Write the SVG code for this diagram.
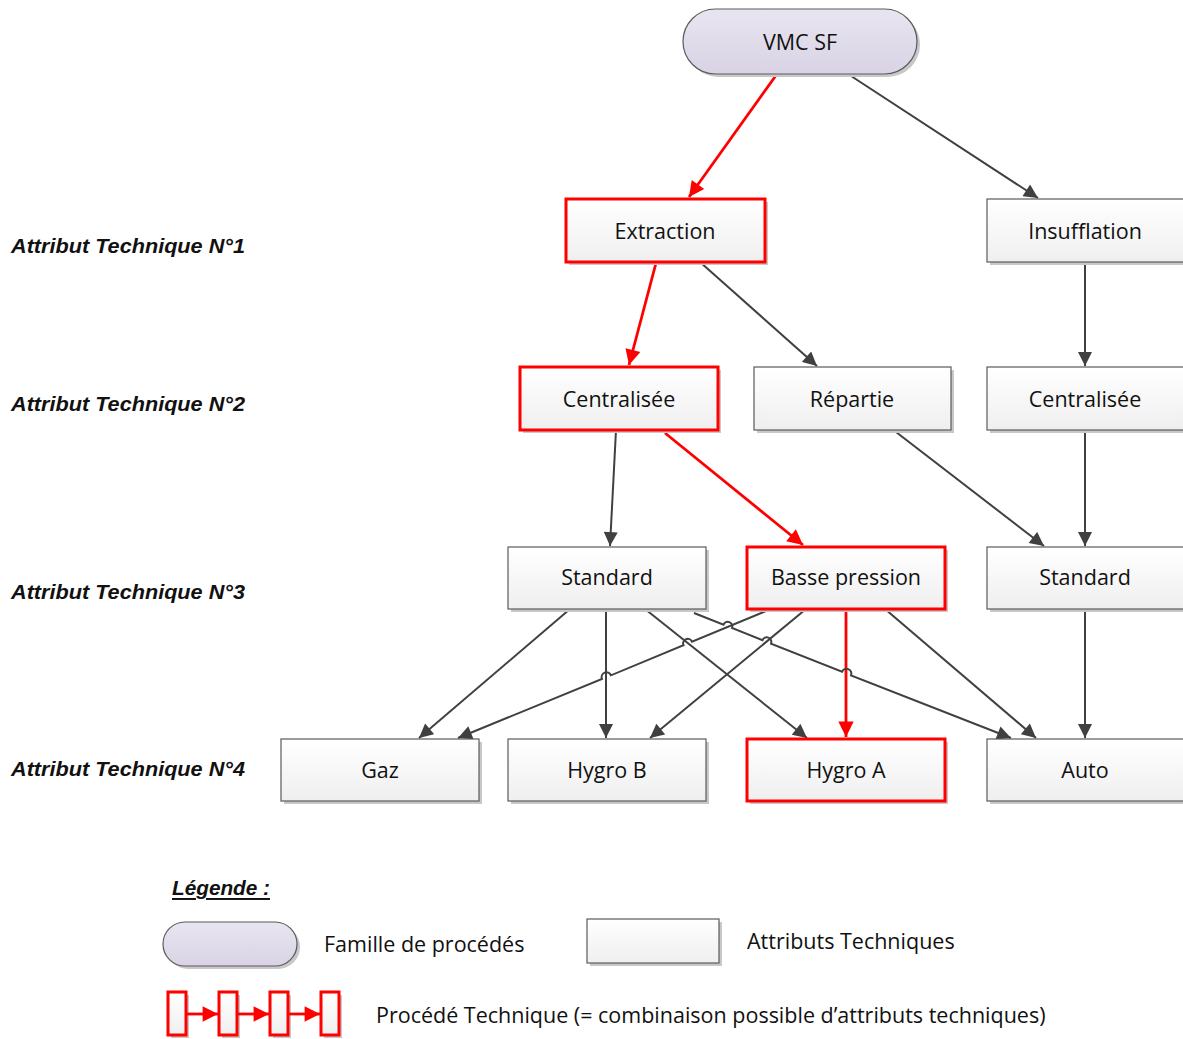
<svg xmlns="http://www.w3.org/2000/svg" width="1183" height="1039" viewBox="0 0 1183 1039">
<style>
.box{fill:url(#gBox);stroke:#5a5a5a;stroke-width:1.2}
.rbox{fill:url(#gBox);stroke:#ff0000;stroke-width:3}
.sh{fill:#c8c8c8}
.t{font-family:"Open Sans","Liberation Sans",sans-serif;font-size:21.5px;fill:#111;text-anchor:middle;dominant-baseline:central}
.lt{font-family:"Open Sans","Liberation Sans",sans-serif;font-size:21.5px;fill:#111;dominant-baseline:central}
.at{font-family:"Liberation Sans","Open Sans",sans-serif;font-size:19.5px;font-weight:bold;font-style:italic;fill:#111;dominant-baseline:central}
.c{fill:none;stroke:#404040;stroke-width:2}
.r{fill:none;stroke:#ff0000;stroke-width:2.8}
</style>
<defs>
<linearGradient id="gBox" x1="0" y1="0" x2="0" y2="1"><stop offset="0" stop-color="#ffffff"/><stop offset="1" stop-color="#efefef"/></linearGradient>
<linearGradient id="gFam" x1="0" y1="0" x2="0" y2="1"><stop offset="0" stop-color="#e9e5f0"/><stop offset="1" stop-color="#d9d3e5"/></linearGradient>
<marker id="ab" viewBox="0 0 10 10" refX="10" refY="5" markerWidth="7.5" markerHeight="7" orient="auto" markerUnits="strokeWidth"><path d="M0,0 L10,5 L0,10 Z" fill="#404040"/></marker>
<marker id="ar" viewBox="0 0 10 10" refX="10" refY="5" markerWidth="6" markerHeight="5.5" orient="auto" markerUnits="strokeWidth"><path d="M0,0 L10,5 L0,10 Z" fill="#ff0000"/></marker>
</defs>

<g id="labels">
<text class="at" x="11" y="246" textLength="234" lengthAdjust="spacingAndGlyphs">Attribut Technique N°1</text>
<text class="at" x="11" y="404" textLength="234" lengthAdjust="spacingAndGlyphs">Attribut Technique N°2</text>
<text class="at" x="11" y="592" textLength="234" lengthAdjust="spacingAndGlyphs">Attribut Technique N°3</text>
<text class="at" x="11" y="769" textLength="234" lengthAdjust="spacingAndGlyphs">Attribut Technique N°4</text>
</g>

<g id="connectors">
<line class="r" x1="777" y1="74" x2="689" y2="197" marker-end="url(#ar)"/>
<line class="c" x1="848" y1="74" x2="1038" y2="198" marker-end="url(#ab)"/>
<line class="r" x1="656" y1="263" x2="629" y2="365" marker-end="url(#ar)"/>
<line class="c" x1="700" y1="262" x2="817" y2="366" marker-end="url(#ab)"/>
<line class="c" x1="1085" y1="262" x2="1085" y2="366" marker-end="url(#ab)"/>
<line class="c" x1="616" y1="430" x2="610" y2="546" marker-end="url(#ab)"/>
<line class="r" x1="665" y1="433" x2="803" y2="545" marker-end="url(#ar)"/>
<line class="c" x1="896" y1="432" x2="1044" y2="546" marker-end="url(#ab)"/>
<line class="c" x1="1085" y1="430" x2="1085" y2="546" marker-end="url(#ab)"/>
<line class="c" x1="570" y1="609" x2="419" y2="738" marker-end="url(#ab)"/>
<line class="c" x1="606" y1="609" x2="606" y2="738" marker-end="url(#ab)"/>
<line class="c" x1="645" y1="609" x2="807" y2="738" marker-end="url(#ab)"/>
<line class="r" x1="846" y1="610" x2="846" y2="737" marker-end="url(#ar)"/>
<line class="c" x1="806" y1="609" x2="650" y2="738" marker-end="url(#ab)"/>
<line class="c" x1="885" y1="609" x2="1036" y2="738" marker-end="url(#ab)"/>
<line class="c" x1="1085" y1="609" x2="1085" y2="738" marker-end="url(#ab)"/>
<path class="c" d="M771,609 L692,641.7 A4.5,4.5 0 0 0 683.5,645.2 L611,675.3 A4.5,4.5 0 0 0 602,679 L458,738" marker-end="url(#ab)"/>
<path class="c" d="M694,613 L723.5,624.7 A4.5,4.5 0 0 1 732,628 L762.5,640.2 A4.5,4.5 0 0 1 771,643.6 L842,671.8 A4.5,4.5 0 0 1 851,675.4 L1011,738" marker-end="url(#ab)"/>
</g>

<g id="vmc">
<rect x="686" y="12" width="234" height="65" rx="32.5" fill="#c8c8c8"/>
<rect x="683" y="9" width="234" height="65" rx="32.5" fill="url(#gFam)" stroke="#5a5a5a" stroke-width="1.2"/>
<text class="t" x="800" y="41">VMC SF</text>
</g>
<g id="extraction">
<rect class="sh" x="569" y="202" width="199" height="63"/>
<rect class="rbox" x="566" y="199" width="199" height="63"/>
<text class="t" x="665" y="230">Extraction</text>
</g>
<g id="insufflation">
<rect class="sh" x="990" y="202" width="200" height="63"/>
<rect class="box" x="987" y="199" width="200" height="63"/>
<text class="t" x="1085" y="230">Insufflation</text>
</g>
<g id="centralisee1">
<rect class="sh" x="523" y="370" width="198" height="63"/>
<rect class="rbox" x="520" y="367" width="198" height="63"/>
<text class="t" x="619" y="398">Centralisée</text>
</g>
<g id="repartie">
<rect class="sh" x="757" y="370" width="197" height="63"/>
<rect class="box" x="754" y="367" width="197" height="63"/>
<text class="t" x="852" y="398">Répartie</text>
</g>
<g id="centralisee2">
<rect class="sh" x="990" y="370" width="200" height="63"/>
<rect class="box" x="987" y="367" width="200" height="63"/>
<text class="t" x="1085" y="398">Centralisée</text>
</g>
<g id="standard1">
<rect class="sh" x="511" y="550" width="198" height="62"/>
<rect class="box" x="508" y="547" width="198" height="62"/>
<text class="t" x="607" y="576">Standard</text>
</g>
<g id="bassepression">
<rect class="sh" x="750" y="550" width="198" height="62"/>
<rect class="rbox" x="747" y="547" width="198" height="62"/>
<text class="t" x="846" y="576">Basse pression</text>
</g>
<g id="standard2">
<rect class="sh" x="990" y="550" width="200" height="62"/>
<rect class="box" x="987" y="547" width="200" height="62"/>
<text class="t" x="1085" y="576">Standard</text>
</g>
<g id="gaz">
<rect class="sh" x="284" y="742" width="198" height="62"/>
<rect class="box" x="281" y="739" width="198" height="62"/>
<text class="t" x="380" y="769">Gaz</text>
</g>
<g id="hygrob">
<rect class="sh" x="511" y="742" width="198" height="62"/>
<rect class="box" x="508" y="739" width="198" height="62"/>
<text class="t" x="607" y="769">Hygro B</text>
</g>
<g id="hygroa">
<rect class="sh" x="750" y="742" width="198" height="62"/>
<rect class="rbox" x="747" y="739" width="198" height="62"/>
<text class="t" x="846" y="769">Hygro A</text>
</g>
<g id="auto">
<rect class="sh" x="990" y="742" width="200" height="62"/>
<rect class="box" x="987" y="739" width="200" height="62"/>
<text class="t" x="1085" y="769">Auto</text>
</g>

<g id="legend">
<text class="at" x="172" y="888" text-decoration="underline" textLength="98" lengthAdjust="spacingAndGlyphs">Légende :</text>
<rect x="166" y="925" width="134" height="44" rx="22" fill="#c8c8c8"/>
<rect x="163" y="922" width="134" height="44" rx="22" fill="url(#gFam)" stroke="#5a5a5a" stroke-width="1.2"/>
<text class="lt" x="324" y="943">Famille de procédés</text>
<rect class="sh" x="590" y="922" width="132" height="44"/>
<rect class="box" x="587" y="919" width="132" height="44"/>
<text class="lt" x="747" y="940">Attributs Techniques</text>
<g>
<rect x="171" y="995" width="18" height="43" fill="#c8c8c8"/>
<rect x="222" y="995" width="18" height="43" fill="#c8c8c8"/>
<rect x="273" y="995" width="18" height="43" fill="#c8c8c8"/>
<rect x="324" y="995" width="18" height="43" fill="#c8c8c8"/>
<rect class="rbox" x="168" y="992" width="18" height="43"/>
<rect class="rbox" x="219" y="992" width="18" height="43"/>
<rect class="rbox" x="270" y="992" width="18" height="43"/>
<rect class="rbox" x="321" y="992" width="18" height="43"/>
<line class="r" x1="186" y1="1014" x2="218" y2="1014" marker-end="url(#ar)"/>
<line class="r" x1="237" y1="1014" x2="269" y2="1014" marker-end="url(#ar)"/>
<line class="r" x1="288" y1="1014" x2="320" y2="1014" marker-end="url(#ar)"/>
</g>
<text class="lt" x="376" y="1014">Procédé Technique (= combinaison possible d’attributs techniques)</text>
</g>
</svg>
